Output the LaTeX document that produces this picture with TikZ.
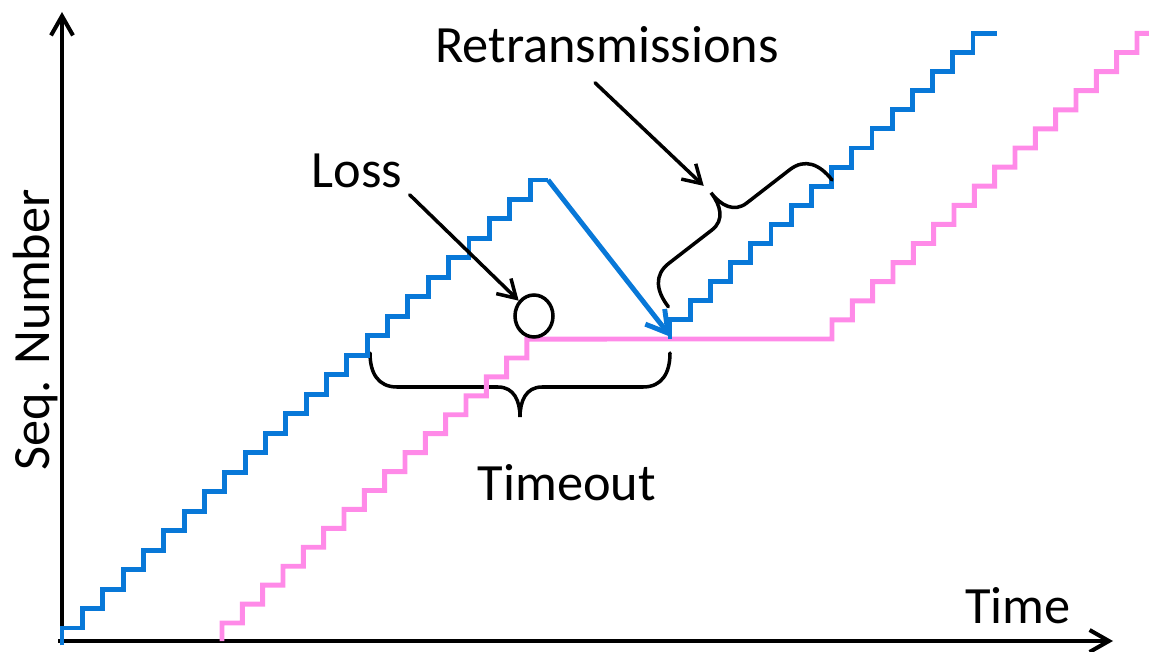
\documentclass[tikz,border=0pt]{standalone}
\usepackage{fontspec}
\setmainfont{Carlito}
\usetikzlibrary{arrows.meta,calc,positioning,shapes.geometric}
\definecolor{SeqBlue}{RGB}{8,120,216}
\definecolor{AckPink}{RGB}{255,138,232}
\tikzset{pics/curly/.style={code={
  \draw[bracel] (0,0) .. controls (0,20) and (8,34) .. (27,34) -- ({#1/2-22},34)
    .. controls ({#1/2-6},34) and ({#1/2},48) .. ({#1/2},64) coordinate (-tip)
    .. controls ({#1/2},48) and ({#1/2+6},34) .. ({#1/2+22},34) -- ({#1-27},34)
    .. controls ({#1-8},34) and (#1,20) .. (#1,0);}}}
\begin{document}
\begin{tikzpicture}[x=0.02cm,y=-0.02cm,>={Straight Barb[length=10pt,width=12pt]},
  axis/.style={line width=2.3pt,->,>={Straight Barb[length=11pt,width=12.5pt]}},
  seq/.style={line width=2.8pt,SeqBlue},
  ack/.style={line width=2.8pt,AckPink},
  ptr/.style={line width=2pt,->,line cap=round},
  bracel/.style={line width=2pt,line cap=round},
  lbl/.style={font=\fontsize{29.8pt}{36pt}\selectfont,anchor=base,inner sep=4pt}]
\useasboundingbox (0,0) rectangle (1149,652);
% axes
\draw[axis] (62,645) -- (62,12);
\draw[axis] (58,641) -- (1113,641);
\pic (tb) at (370,353) {curly=300};
% acks
\draw[ack] (222,641) -- (222,623) \foreach \k in {1,...,15}{ -- ++(20.33,0) -- ++(0,-18.93)}
  -- (832,339) -- ++(0,-19.1) \foreach \k in {1,...,15}{ -- ++(20.33,0) -- ++(0,-19.1)} -- ++(14,0);
% packets
\draw[seq] (62,645) -- (62,628) \foreach \k in {1,...,23}{ -- ++(20.35,0) -- ++(0,-19.48)}
  -- ++(18,0) coordinate (peak);
\coordinate (ack) at (671,337);
\draw[seq,->,>={Straight Barb[length=12pt,width=14pt]}] (peak) -- (ack);
\draw[seq] (670,339) -- ++(0,-19.1) \foreach \k in {1,...,15}{ -- ++(20.2,0) -- ++(0,-19.1)} -- ++(24,0);
\pic[rotate=217.75] (rb) at (832,180) {curly=207};
\node[draw,ellipse,line width=2pt,minimum width=0.76cm,minimum height=0.84cm,inner sep=0] (lost) at (534,316) {};
\node[lbl] (lossl) at (357,187) {Loss};
\node[lbl] (retl) at (607,63) {Retransmissions};
\node[lbl] (tol) at (567,500) {Timeout};
\node[lbl] (timel) at (1018,623) {Time};
\node[lbl,rotate=90] (seql) at (50,330) {Seq. Number};
\draw[ptr] (lossl.south east) -- (lost.135);
\draw[ptr,shorten >=0.2cm] (retl.south) ++(-12,12) -- (rb-tip);
\end{tikzpicture}
\end{document}
